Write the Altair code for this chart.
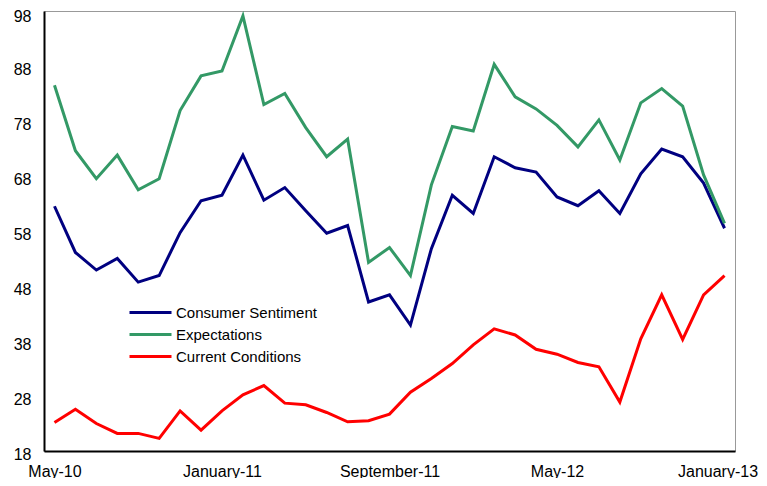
import altair as alt
import pandas as pd

months = [
    "May-10", "June-10", "July-10", "August-10", "September-10", "October-10",
    "November-10", "December-10", "January-11", "February-11", "March-11",
    "April-11", "May-11", "June-11", "July-11", "August-11", "September-11",
    "October-11", "November-11", "December-11", "January-12", "February-12",
    "March-12", "April-12", "May-12", "June-12", "July-12", "August-12",
    "September-12", "October-12", "November-12", "December-12", "January-13",
]
tick_labels = ["May-10", "January-11", "September-11", "May-12", "January-13"]

consumer_sentiment = [
    62.5, 54.1, 50.9, 53.0, 48.7, 49.9, 57.7, 63.5, 64.5, 71.8, 63.6,
    65.9, 61.7, 57.6, 59.0, 45.1, 46.4, 40.9, 54.8, 64.5, 61.2, 71.5,
    69.5, 68.7, 64.2, 62.6, 65.3, 61.2, 68.4, 72.9, 71.5, 66.7, 58.5,
]
expectations = [
    84.5, 72.6, 67.5, 71.8, 65.5, 67.5, 79.9, 86.2, 87.1, 97.1, 81.0,
    83.0, 76.8, 71.5, 74.7, 52.3, 55.0, 49.9, 66.4, 77.0, 76.2, 88.3,
    82.4, 80.2, 77.2, 73.3, 78.2, 70.9, 81.3, 83.9, 80.7, 68.2, 59.4,
]
current_conditions = [
    23.2, 25.6, 23.0, 21.2, 21.2, 20.3, 25.3, 21.8, 25.3, 28.2, 29.9,
    26.7, 26.4, 25.0, 23.3, 23.5, 24.7, 28.7, 31.2, 33.9, 37.3, 40.2,
    39.1, 36.5, 35.6, 34.1, 33.3, 26.9, 38.4, 46.4, 38.3, 46.4, 49.9,
]

series_names = ["Consumer Sentiment", "Expectations", "Current Conditions"]
series_colors = ["#000080", "#339966", "#FF0000"]
y_ticks = [18, 28, 38, 48, 58, 68, 78, 88, 98]

rows = []
for name, vals in zip(series_names, [consumer_sentiment, expectations, current_conditions]):
    for i, (m, v) in enumerate(zip(months, vals)):
        rows.append({"month": m, "value": v, "series": name, "order": i})
df = pd.DataFrame(rows)

FONT = "Liberation Sans"

chart = alt.Chart(df).mark_line(strokeWidth=3).encode(
    x=alt.X(
        "month:O",
        sort=months,
        scale=alt.Scale(type="point", padding=0.5),
        axis=alt.Axis(
            values=tick_labels, title=None, labelAngle=0, ticks=False,
            domainColor="black", domainWidth=2, labelFontSize=16,
            labelPadding=12, labelColor="black", labelFont=FONT,
            grid=False,
            labelOffset={"condition": {"test": "datum.label == 'January-13'", "value": -7}, "value": 0},
        ),
    ),
    y=alt.Y(
        "value:Q",
        scale=alt.Scale(domain=[18, 98], nice=False, zero=False),
        axis=alt.Axis(
            values=y_ticks, title=None, ticks=False, grid=False,
            domainColor="black", domainWidth=2, labelFontSize=16,
            labelPadding=13, labelColor="black", labelFont=FONT,
            labelOffset={"condition": {"test": "datum.value == 98", "value": 5}, "value": 3},
        ),
    ),
    color=alt.Color(
        "series:N",
        scale=alt.Scale(domain=series_names, range=series_colors),
        sort=series_names,
        legend=alt.Legend(
            title=None, orient="none", legendX=113, legendY=294,
            symbolType="M-7,0H1.4", symbolSize=100, symbolStrokeWidth=3,
            labelFontSize=15, labelFont=FONT, labelColor="black",
            labelOffset=4, rowPadding=6, padding=0,
        ),
    ),
    order="order:Q",
).properties(
    width=691, height=440,
    autosize=alt.AutoSizeParams(type="none"),
    padding={"left": 36, "top": 3, "right": 24, "bottom": 27},
).configure_view(
    stroke="#999999", strokeWidth=1
)

chart.save("out.html", embed_options={"renderer": "svg", "actions": False})
